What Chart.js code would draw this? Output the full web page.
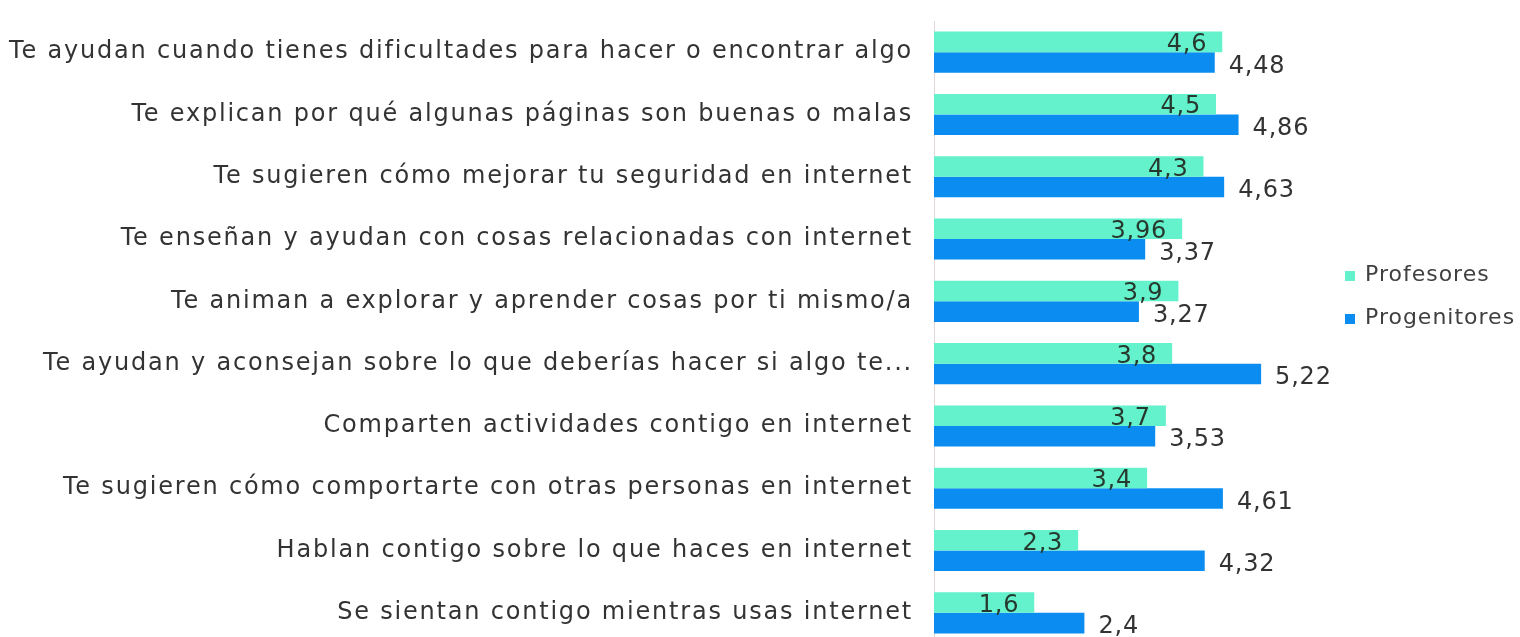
<!DOCTYPE html>
<html lang="es">
<head>
<meta charset="utf-8">
<title>Ayuda de profesores y progenitores en internet</title>
<script src="https://cdn.jsdelivr.net/npm/chart.js@4.4.1/dist/chart.umd.min.js"></script>
<style>
  html, body { margin: 0; padding: 0; background: #fff; }
  #wrap { position: relative; width: 1520px; height: 637px; overflow: hidden; }
  #chart { display: block; }
</style>
</head>
<body>
<div id="wrap">
  <canvas id="chart" width="1520" height="662"></canvas>
</div>
<script>
const categories = [
    'Te ayudan cuando tienes dificultades para hacer o encontrar algo',
    'Te explican por qué algunas páginas son buenas o malas',
    'Te sugieren cómo mejorar tu seguridad en internet',
    'Te enseñan y ayudan con cosas relacionadas con internet',
    'Te animan a explorar y aprender cosas por ti mismo/a',
    'Te ayudan y aconsejan sobre lo que deberías hacer si algo te...',
    'Comparten actividades contigo en internet',
    'Te sugieren cómo comportarte con otras personas en internet',
    'Hablan contigo sobre lo que haces en internet',
    'Se sientan contigo mientras usas internet',
];
const profesores = [4.6, 4.5, 4.3, 3.96, 3.9, 3.8, 3.7, 3.4, 2.3, 1.6];
const progenitores = [4.48, 4.86, 4.63, 3.37, 3.27, 5.22, 3.53, 4.61, 4.32, 2.4];

const TEAL = '#63f2cb';
const BLUE = '#0b8cf1';
const FONT = "'DejaVu Sans', sans-serif";

const fmt = (v) => String(v).replace('.', ',');

/* the original typeface is a wide one: widen the text a little */
const wideText = {
    id: 'wideText',
    beforeDraw(chart) { chart.ctx.letterSpacing = '1.8px'; },
};

/* value labels: teal inside the bar end, blue just after it */
const valueLabels = {
    id: 'valueLabels',
    afterDatasetsDraw(chart) {
        const ctx = chart.ctx;
        ctx.save();
        ctx.letterSpacing = '0.8px';
        ctx.font = `24px ${FONT}`;
        ctx.textBaseline = 'middle';
        chart.data.datasets.forEach((ds, i) => {
            chart.getDatasetMeta(i).data.forEach((bar, j) => {
                const txt = fmt(ds.data[j]);
                if (i === 0) {
                    ctx.textAlign = 'right';
                    ctx.fillStyle = '#27392f';
                    ctx.fillText(txt, bar.x - 15, bar.y + 3);
                } else {
                    ctx.textAlign = 'left';
                    ctx.fillStyle = '#333333';
                    ctx.fillText(txt, bar.x + 14, bar.y + 4);
                }
            });
        });
        ctx.restore();
    },
};

/* legend at the right, as in the original */
const sideLegend = {
    id: 'sideLegend',
    afterDraw(chart) {
        const ctx = chart.ctx;
        const x = chart.chartArea.right + 35;
        let y = 275;
        ctx.save();
        ctx.letterSpacing = '1px';
        ctx.font = `22px ${FONT}`;
        ctx.textBaseline = 'middle';
        ctx.textAlign = 'left';
        chart.data.datasets.forEach((ds) => {
            ctx.fillStyle = ds.backgroundColor;
            ctx.fillRect(x, y - 4, 10, 10);
            ctx.fillStyle = '#404040';
            ctx.fillText(ds.label, x + 20, y);
            y += 43;
        });
        ctx.restore();
    },
};

new Chart(document.getElementById('chart'), {
    type: 'bar',
    data: {
        labels: categories,
        datasets: [
            { label: 'Profesores', data: profesores, backgroundColor: TEAL },
            { label: 'Progenitores', data: progenitores, backgroundColor: BLUE },
        ],
    },
    options: {
        indexAxis: 'y',
        responsive: false,
        animation: false,
        layout: { padding: { top: 21, bottom: 18, right: 210 } },
        datasets: { bar: { categoryPercentage: 0.66, barPercentage: 1 } },
        plugins: {
            legend: { display: false },
            tooltip: { enabled: false },
        },
        scales: {
            x: { display: false, min: 0, max: 6 },
            y: {
                afterFit(scale) {
                    scale.width = 934;
                    scale.paddingTop = 0;
                    scale.paddingBottom = 0;
                },
                grid: { display: false, drawTicks: false },
                border: { display: true, color: '#e3d6d6', width: 1 },
                ticks: { padding: 21, color: '#333333', font: { family: FONT, size: 24 } },
            },
        },
    },
    plugins: [wideText, valueLabels, sideLegend],
});
</script>
</body>
</html>
